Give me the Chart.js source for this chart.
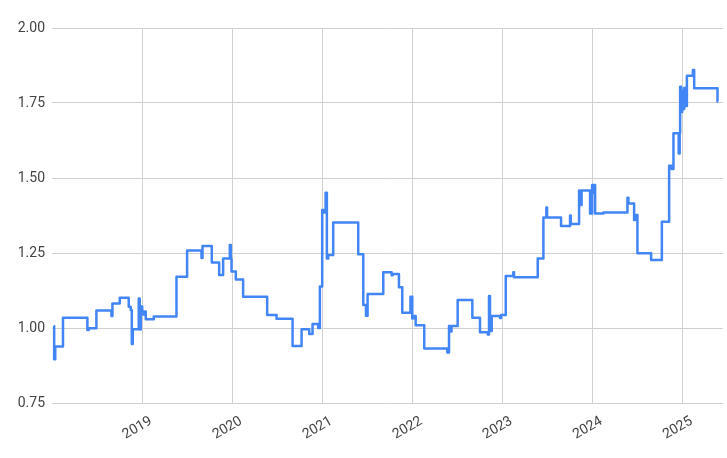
<!DOCTYPE html>
<html><head><meta charset="utf-8">
<script src="https://cdn.jsdelivr.net/npm/chart.js@4/dist/chart.umd.min.js"></script>
<style>html,body{margin:0;padding:0;background:#fff}#wrap{width:727px;height:458px;position:relative}</style>
</head><body><div id="wrap"><canvas id="c" width="727" height="458"></canvas></div>
<script>
// Dates as decimal years (change points of a stepped price series)
const dates = [
  2018.019, 2018.024, 2018.036, 2018.122, 2018.393, 2018.408, 2018.493, 2018.660, 2018.671, 2018.752,
  2018.852, 2018.874, 2018.886, 2018.897, 2018.963, 2018.974, 2018.986, 2019.002, 2019.019, 2019.041,
  2019.130, 2019.382, 2019.500, 2019.660, 2019.671, 2019.774, 2019.856, 2019.900, 2019.974, 2019.986,
  2019.993, 2020.041, 2020.122, 2020.389, 2020.493, 2020.671, 2020.771, 2020.856, 2020.893, 2020.956,
  2020.974, 2021.000, 2021.019, 2021.038, 2021.052, 2021.067, 2021.122, 2021.400, 2021.456, 2021.486,
  2021.504, 2021.678, 2021.771, 2021.782, 2021.852, 2021.889, 2021.980, 2022.000, 2022.011, 2022.038,
  2022.133, 2022.389, 2022.408, 2022.424, 2022.436, 2022.504, 2022.667, 2022.752, 2022.838, 2022.852,
  2022.863, 2022.882, 2022.974, 2022.986, 2023.038, 2023.122, 2023.130, 2023.393, 2023.456, 2023.489,
  2023.497, 2023.652, 2023.752, 2023.760, 2023.852, 2023.863, 2023.880, 2023.974, 2023.997, 2024.011,
  2024.019, 2024.030, 2024.122, 2024.389, 2024.400, 2024.463, 2024.474, 2024.500, 2024.652, 2024.771,
  2024.852, 2024.880, 2024.900, 2024.958, 2024.969, 2024.974, 2024.986, 2024.997, 2025.008, 2025.019,
  2025.030, 2025.049, 2025.116, 2025.130, 2025.389, 2025.392
];
const prices = [
  1.007, 0.896, 0.938, 1.034, 0.993, 0.999, 1.058, 1.040, 1.082, 1.101,
  1.071, 1.060, 0.947, 0.996, 1.098, 0.995, 1.072, 1.045, 1.055, 1.029,
  1.038, 1.171, 1.258, 1.233, 1.273, 1.218, 1.177, 1.232, 1.277, 1.230,
  1.188, 1.162, 1.104, 1.043, 1.031, 0.940, 0.996, 0.980, 1.013, 1.000,
  1.138, 1.393, 1.385, 1.451, 1.232, 1.243, 1.352, 1.246, 1.077, 1.041,
  1.113, 1.186, 1.176, 1.180, 1.136, 1.051, 1.104, 1.032, 1.040, 1.009,
  0.932, 0.918, 1.007, 0.988, 1.007, 1.093, 1.034, 0.986, 0.978, 1.107,
  0.990, 1.040, 1.033, 1.043, 1.173, 1.186, 1.169, 1.232, 1.368, 1.402,
  1.368, 1.340, 1.375, 1.347, 1.458, 1.410, 1.458, 1.382, 1.477, 1.450,
  1.477, 1.382, 1.385, 1.434, 1.415, 1.360, 1.377, 1.249, 1.227, 1.354,
  1.541, 1.530, 1.649, 1.582, 1.650, 1.804, 1.720, 1.790, 1.730, 1.800,
  1.740, 1.841, 1.860, 1.799, 1.754, 1.754
];
const yearTicks = [2019, 2020, 2021, 2022, 2023, 2024, 2025];
const yTicks = [0.75, 1.00, 1.25, 1.50, 1.75, 2.00];

const labelFont = { family: 'Roboto', size: 14 };
const labelColor = '#444444';
const gridColor = '#d0d0d0';

new Chart(document.getElementById('c'), {
  type: 'line',
  data: {
    datasets: [{
      data: dates.map((d, i) => ({ x: d, y: prices[i] })),
      borderColor: '#4285F4',
      borderWidth: 2.5,
      borderJoinStyle: 'round',
      pointRadius: 0,
      stepped: true,
      fill: false
    }]
  },
  options: {
    responsive: false,
    animation: false,
    devicePixelRatio: 1,
    layout: { padding: { top: 28, right: 4, left: 0, bottom: 0 } },
    plugins: { legend: { display: false }, tooltip: { enabled: false } },
    scales: {
      x: {
        type: 'linear',
        min: 2018,
        max: 2025.45,
        afterBuildTicks: s => { s.ticks = yearTicks.map(v => ({ value: v })); },
        afterFit: s => { s.height = 55; },
        ticks: {
          autoSkip: false, minRotation: 30, maxRotation: 30,
          font: labelFont, color: labelColor, padding: 10, labelOffset: 9,
          callback: v => String(v)
        },
        grid: { color: gridColor, drawTicks: false },
        border: { display: false }
      },
      y: {
        min: 0.75,
        max: 2.0,
        afterBuildTicks: s => { s.ticks = yTicks.map(v => ({ value: v })); },
        afterFit: s => { s.width = 52; },
        ticks: {
          font: labelFont, color: labelColor, padding: 7,
          callback: v => Number(v).toFixed(2)
        },
        grid: { color: gridColor, drawTicks: false },
        border: { display: false }
      }
    }
  }
});
</script>
</body></html>
